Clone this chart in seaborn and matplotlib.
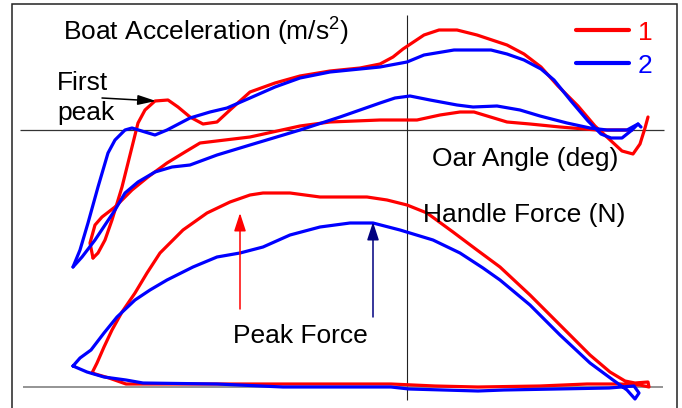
import matplotlib
matplotlib.use("Agg")
import matplotlib.pyplot as plt
import pandas as pd
import seaborn as sns
from matplotlib.lines import Line2D
from matplotlib.patches import Rectangle

# Oar angle in degrees (0 = oar square to the boat), boat acceleration in m/s^2,
# handle force in N.  Two trials ("1" and "2") of one rower, drive and recovery.

red_acc_drive_angle = [-62.8, -61.8, -60.4, -59.0, -57.0, -55.0, -53.8, -52.4, -50.4, -47.8,
                       -45.8, -43.4, -40.8, -38.0, -35.4, -31.4, -26.4, -21.4, -15.4, -9.4,
                       -5.4, -2.8, -0.8, 3.4, 6.4, 10.0, 14.0, 20.0, 23.4, 26.8, 30.2,
                       34.2, 37.6, 40.2, 43.0, 45.2, 46.6, 47.6, 48.2]
red_acc_drive_value = [-6.4, -6.15, -5.5, -4.5, -2.85, -0.85, 0.35, 1.0, 1.45, 1.5,
                       1.15, 0.65, 0.3, 0.4, 1.0, 1.9, 2.35, 2.7, 2.95, 3.1,
                       3.3, 3.65, 4.05, 4.75, 5.0, 5.0, 4.75, 4.25, 3.8, 3.15, 2.2,
                       1.2, 0.2, -0.4, -1.05, -1.2, -0.7, 0.1, 0.65]

red_acc_recovery_angle = [45.0, 38.0, 30.6, 24.6, 20.0, 13.4, 10.6, 6.6, 2.0, -5.4,
                          -15.4, -21.4, -31.4, -41.4, -44.4, -48.0, -51.8, -55.0, -58.4, -61.0,
                          -62.4, -63.4, -62.8]
red_acc_recovery_value = [0.0, 0.0, 0.15, 0.3, 0.4, 0.9, 0.9, 0.75, 0.5, 0.5,
                          0.4, 0.2, -0.35, -0.65, -1.1, -1.65, -2.35, -3.0, -3.85, -4.35,
                          -4.75, -5.65, -6.4]

blue_acc_drive_angle = [-66.8, -65.4, -63.8, -61.8, -59.8, -58.4, -56.4, -55.0, -52.4, -50.4,
                        -48.0, -43.4, -39.4, -36.0, -31.4, -26.4, -21.4, -15.4, -9.4, -5.4,
                        0.0, 3.4, 9.4, 16.8, 20.0, 23.4, 26.8, 29.4, 32.8, 36.2,
                        38.8, 40.8, 43.0, 45.0, 46.2, 46.8]
blue_acc_drive_value = [-6.85, -6.0, -4.65, -2.85, -1.15, -0.5, 0.0, 0.1, -0.1, -0.25,
                        0.0, 0.6, 0.9, 1.1, 1.6, 2.15, 2.6, 2.9, 3.05, 3.15,
                        3.4, 3.75, 4.0, 4.0, 3.8, 3.5, 3.05, 2.5, 1.45, 0.45,
                        -0.2, -0.4, -0.4, 0.0, 0.3, 0.15]

blue_acc_recovery_angle = [46.2, 44.0, 40.0, 36.6, 32.0, 26.6, 22.6, 18.0, 13.2, 10.0,
                           4.6, 0.6, -2.4, -5.4, -13.4, -21.4, -31.4, -38.0, -43.4, -47.0,
                           -50.4, -53.8, -56.4, -58.4, -60.4, -62.4, -65.0, -66.8]
blue_acc_recovery_value = [0.3, 0.0, 0.0, 0.1, 0.35, 0.7, 1.0, 1.2, 1.15, 1.25,
                           1.5, 1.7, 1.6, 1.35, 0.65, 0.0, -0.75, -1.25, -1.75, -1.85,
                           -2.1, -2.6, -3.15, -4.0, -4.75, -5.5, -6.35, -6.85]

red_force_angle = [-63.0, -62.0, -60.6, -59.0, -57.0, -54.4, -52.0, -49.4, -44.8, -40.0,
                   -35.4, -31.4, -28.8, -23.4, -17.4, -8.0, -4.0, 0.0, 4.0, 9.2,
                   14.0, 18.6, 24.6, 30.6, 36.6, 40.6, 43.6, 45.6, 48.2, 48.4,
                   46.6, 42.6, 36.0, 26.6, 14.2, 5.6, -3.2, -29.2, -56.2, -59.6, -63.0]
red_force_value = [56, 96, 160, 228, 300, 376, 456, 536, 628, 696,
                   740, 768, 776, 776, 760, 760, 748, 728, 696, 620,
                   548, 480, 368, 248, 128, 60, 24, 16, 20, 0,
                   8, 12, 12, 4, 0, 4, 12, 12, 12, 36, 56]

blue_force_angle = [-66.8, -65.4, -63.2, -60.6, -58.0, -54.4, -51.4, -48.0, -42.8, -38.0,
                    -33.4, -28.8, -23.4, -17.4, -11.4, -6.8, -1.4, 5.2, 10.6, 15.2,
                    18.6, 24.6, 30.6, 36.6, 41.2, 44.0, 45.6, 46.4, 45.4,
                    40.4, 19.4, 14.2, 0.4, -3.2, -24.8, -38.0, -52.8, -56.2, -60.6, -64.0, -66.8]
blue_force_value = [84, 116, 148, 216, 280, 348, 388, 428, 480, 520,
                    536, 560, 608, 640, 656, 656, 628, 588, 536, 476,
                    428, 328, 208, 96, 28, -12, -48, -24, 4,
                    -4, -12, -16, -8, 0, 0, 12, 16, 28, 40, 60, 84]

trial_labels = ["1", "2"]
trial_colors = {"1": "#ff0000", "2": "#0000ff"}


def segment(trial, part, angle, value):
    return pd.DataFrame({"angle": angle, "value": value,
                         "trial": trial, "part": f"{trial}-{part}"})


acc = pd.concat([
    segment("1", "drive", red_acc_drive_angle, red_acc_drive_value),
    segment("1", "recovery", red_acc_recovery_angle, red_acc_recovery_value),
    segment("2", "drive", blue_acc_drive_angle, blue_acc_drive_value),
    segment("2", "recovery", blue_acc_recovery_angle, blue_acc_recovery_value),
], ignore_index=True)

force = pd.concat([
    segment("1", "stroke", red_force_angle, red_force_value),
    segment("2", "stroke", blue_force_angle, blue_force_value),
], ignore_index=True)

sns.set_theme(style="white")
plt.rcParams["font.family"] = ["Liberation Sans", "DejaVu Sans"]
plt.rcParams["text.color"] = "black"
plt.rcParams["mathtext.fontset"] = "custom"
plt.rcParams["mathtext.rm"] = "Liberation Sans"
plt.rcParams["mathtext.default"] = "regular"

W, H = 682, 408
fig = plt.figure(figsize=(W / 100, H / 100), dpi=100)
fig.patch.set_facecolor("white")


def fx(x):
    return x / W


def fy(y):
    return 1 - y / H


# acceleration and force share the oar-angle axis, each with its own vertical scale
ax_acc = fig.add_axes([0, 0, 1, 1])
ax_force = ax_acc.twinx()
ax_force.set_position([0, 0, 1, 1])
for a in (ax_acc, ax_force):
    a.set_axis_off()
    a.patch.set_alpha(0)
ax_acc.set_xlim(-81.4, 55.0)
ax_acc.set_ylim(-13.9, 6.5)
ax_force.set_ylim(-84, 1548)

# reference axes: zero acceleration, zero force, zero oar angle
ax_acc.hlines(0, -77.4, 51.4, color="#333333", lw=0.9)
ax_force.hlines(0, -76.8, 51.2, color="#777777", lw=1.1)
ax_acc.vlines(0, -13.5, 5.75, color="#222222", lw=0.8)

line_kw = dict(hue="trial", hue_order=trial_labels, units="part", estimator=None,
               sort=False, palette=trial_colors, lw=2.3, legend=False,
               solid_joinstyle="round", solid_capstyle="round")
sns.lineplot(data=acc, x="angle", y="value", ax=ax_acc, **line_kw)
sns.lineplot(data=force, x="angle", y="value", ax=ax_force, **line_kw)
for a in (ax_acc, ax_force):
    a.set_axis_off()

# outer frame
fig.add_artist(Rectangle((fx(12), -0.05), fx(677) - fx(12), fy(4) + 0.05,
                         transform=fig.transFigure, fill=False,
                         edgecolor="#222222", lw=1.1))

fs = 19
fig.text(fx(63), fy(41), "Boat Acceleration (m/s$^2$)", fontsize=fs, va="baseline", color="black")
fig.text(fx(57), fy(90), "First", fontsize=fs, va="baseline", color="black")
fig.text(fx(57), fy(120), "peak", fontsize=fs, va="baseline", color="black")
fig.text(fx(432), fy(166), "Oar Angle (deg)", fontsize=fs, va="baseline", color="black")
fig.text(fx(423), fy(222), "Handle Force (N)", fontsize=fs, va="baseline", color="black")
fig.text(fx(233), fy(343), "Peak Force", fontsize=fs, va="baseline", color="black")

# arrows
ax_acc.annotate("", xy=(-50.2, 1.45), xytext=(-61.0, 1.6),
                arrowprops=dict(arrowstyle="-|>,head_length=1.1,head_width=0.3",
                                color="black", lw=1.1, shrinkA=0, shrinkB=0,
                                mutation_scale=10))
ax_force.annotate("", xy=(-33.4, 696), xytext=(-33.4, 312),
                  arrowprops=dict(arrowstyle="-|>,head_length=1.1,head_width=0.36",
                                  color="#ff0000", lw=1.1, shrinkA=0, shrinkB=0,
                                  mutation_scale=10))
ax_force.annotate("", xy=(-6.8, 660), xytext=(-6.8, 280),
                  arrowprops=dict(arrowstyle="-|>,head_length=1.1,head_width=0.36",
                                  color="#000080", lw=1.1, shrinkA=0, shrinkB=0,
                                  mutation_scale=10))

handles = [Line2D([], [], color=trial_colors[t], lw=3) for t in trial_labels]
fig.legend(handles, trial_labels, loc="upper left",
           bbox_to_anchor=(fx(576), fy(20.5)), bbox_transform=fig.transFigure,
           frameon=False, borderpad=0, borderaxespad=0, fontsize=fs,
           handlelength=2.0, handletextpad=0.35, labelspacing=0.35,
           labelcolor="linecolor")

fig.savefig("out.png", dpi=100, facecolor="white")
